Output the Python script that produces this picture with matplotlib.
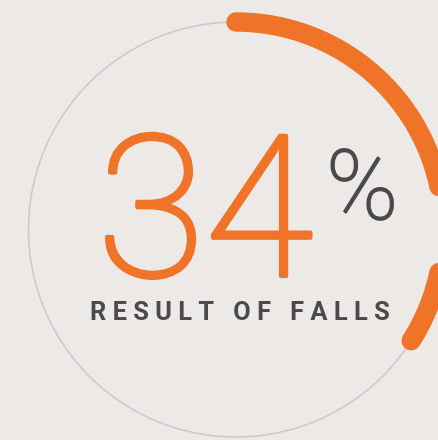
import numpy as np
import matplotlib
matplotlib.use('Agg')
import matplotlib.pyplot as plt
import matplotlib.patheffects as pe

# ---- data ----
value = 34                 # percent shown by the gauge
big_text = "34"
pct_sign = "%"
label = "RESULT OF FALLS"

ORANGE = '#f07428'
DARK = '#4a4a4c'
RING = '#c9cacc'
BG = '#ece9e7'

W, H = 438, 440
fig = plt.figure(figsize=(W / 100, H / 100), dpi=100)
fig.patch.set_facecolor(BG)
ax = fig.add_axes([0, 0, 1, 1])
ax.set_facecolor(BG)
ax.set_xlim(0, W)
ax.set_ylim(H, 0)
ax.axis('off')

cx, cy, r = 236, 229.5, 207.5
t = np.linspace(0, 2 * np.pi, 721)
ax.plot(cx + r * np.cos(t), cy + r * np.sin(t), color=RING, lw=1.1, clip_on=False)

a = np.linspace(0, value / 100 * 2 * np.pi, 300)
ax.plot(cx + r * np.sin(a), cy - r * np.cos(a), color=ORANGE, lw=14.0,
        solid_capstyle='round', clip_on=False)

ax.text(313, 276, big_text, ha='right', va='baseline', fontsize=142,
        family='Roboto', weight='light', color=ORANGE,
        path_effects=[pe.withStroke(linewidth=3, foreground=ORANGE)])
ax.text(326, 219, pct_sign, ha='left', va='baseline', fontsize=70,
        family='Roboto', weight='light', color=DARK,
        path_effects=[pe.withStroke(linewidth=1.2, foreground=DARK)])

# letter-spaced label as one string, scaled to the reference width
spaced = "   ".join(" ".join(w) for w in label.split(" "))
fs0 = 20
lab = ax.text(90, 320, spaced, ha='left', va='baseline', fontsize=fs0,
              family='Roboto', weight='bold', color=DARK)
fig.canvas.draw()
wpx = lab.get_window_extent(fig.canvas.get_renderer()).width
lab.set_fontsize(fs0 * 298 / wpx)

fig.savefig('out.png', dpi=100, facecolor=BG)
